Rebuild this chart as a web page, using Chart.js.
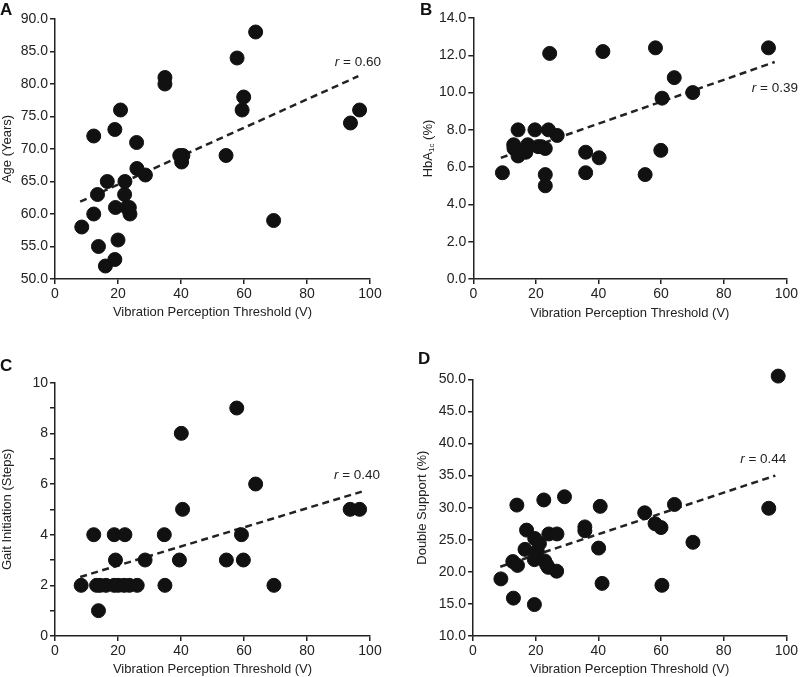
<!DOCTYPE html>
<html>
<head>
<meta charset="utf-8">
<script src="https://cdn.jsdelivr.net/npm/chart.js@4/dist/chart.umd.min.js"></script>
<style>
  body { margin: 0; background: #fff; width: 800px; height: 677px; position: relative; overflow: hidden; }
  .panel { position: absolute; }
  .tag { position: absolute; font: bold 17px "Liberation Sans", Arial, sans-serif; line-height: 17px; color: #111; }
</style>
</head>
<body>
<div class="panel" style="left:0;top:0"><canvas id="chartA" width="400" height="330"></canvas></div>
<div class="panel" style="left:400px;top:0"><canvas id="chartB" width="400" height="330"></canvas></div>
<div class="panel" style="left:0;top:330px"><canvas id="chartC" width="400" height="347"></canvas></div>
<div class="panel" style="left:400px;top:330px"><canvas id="chartD" width="400" height="347"></canvas></div>
<div class="tag" style="left:0;top:1px">A</div>
<div class="tag" style="left:420px;top:1px">B</div>
<div class="tag" style="left:0;top:357px">C</div>
<div class="tag" style="left:418px;top:350px">D</div>
<script>
// panel A - age
const vptA = [8.5, 12.3, 12.3, 13.5, 13.8, 16, 16.6, 19, 19.2, 19, 20, 20.8, 22.2, 22.1, 22.8, 23.6, 23.8,
  25.9, 26, 28.7, 34.9, 34.9, 39.6, 40.6, 40.2, 54.3, 57.8, 59.4, 59.9, 63.7, 69.4, 93.8, 96.7];
const ageA = [58, 72, 60, 63, 55, 52, 65, 73, 61, 53, 56, 76, 65, 63, 61, 61, 60,
  71, 67, 66, 81, 80, 69, 69, 68, 69, 84, 76, 78, 88, 59, 74, 76];
const fitXA = [8.0, 96.3];
const fitYA = [61.9, 81.2];

// panel B - HbA1c
const vptB = [9.3, 12.9, 13, 14.3, 14.3, 16.8, 17.4, 19.7, 20.7, 21.7, 23, 23, 23, 24, 24.4, 26.8,
  35.9, 35.9, 40.2, 41.4, 54.9, 58.2, 59.9, 60.3, 64.2, 70.1, 94.3];
const hbaB = [5.7, 7.2, 7.0, 8.0, 6.6, 6.8, 7.2, 8.0, 7.1, 7.1, 7.0, 5.6, 5.0, 8.0, 12.1, 7.7,
  6.8, 5.7, 6.5, 12.2, 5.6, 12.4, 6.9, 9.7, 10.8, 10.0, 12.4];
const fitXB = [8.8, 96.3];
const fitYB = [6.5, 11.64];

// panel C - gait initiation
const vptC = [8.3, 12.3, 13.2, 13.8, 14.3, 16.2, 18.8, 19.2, 18.8, 20.1, 22.2, 21.9, 23.6, 26.1,
  28.6, 34.7, 34.9, 39.5, 40.1, 40.5, 54.4, 57.7, 59.2, 59.8, 63.7, 69.5, 93.7, 96.7];
const stepsC = [2, 4, 2, 1, 2, 2, 4, 3, 2, 2, 4, 2, 2, 2,
  3, 4, 2, 3, 8, 5, 3, 9, 4, 3, 6, 2, 5, 5];
const fitXC = [8.0, 97.4];
const fitYC = [2.33, 5.7];

// panel D - double support
const vptD = [8.9, 12.7, 12.9, 14.0, 14.2, 16.6, 17.1, 19.6, 19.7, 19.6, 20.5, 21.2, 22.6, 22.9,
  23.5, 24.2, 24.0, 26.8, 26.7, 29.2, 35.7, 35.7, 40.1, 40.6, 41.2, 54.8, 58.1, 60.0, 60.3,
  64.3, 70.2, 94.4, 97.4];
const dsD = [18.9, 21.6, 15.9, 30.4, 21.0, 23.5, 26.5, 14.9, 25.2, 21.9, 23.2, 24.4, 31.2, 21.7,
  21.1, 25.9, 20.7, 25.9, 20.1, 31.7, 27.0, 26.4, 23.7, 30.2, 18.2, 29.2, 27.5, 26.9, 17.9,
  30.5, 24.6, 29.9, 50.5];
const fitXD = [8.7, 96.5];
const fitYD = [20.8, 35.0];

const xTicks = [0, 20, 40, 60, 80, 100];
const FONT = '"Liberation Sans", Arial, sans-serif';
const INK = '#222';

// draws the "r = ..." label and (for B) the subscripted y title
const extras = {
  id: 'extras',
  afterDraw(chart, args, opts) {
    const ctx = chart.ctx;
    const sx = chart.scales.x, sy = chart.scales.y;
    ctx.save();
    ctx.fillStyle = INK;
    ctx.textBaseline = 'middle';
    if (opts.rText) {
      const px = sx.getPixelForValue(opts.rAt[0]);
      const py = sy.getPixelForValue(opts.rAt[1]);
      ctx.font = 'italic 13.5px ' + FONT;
      const w1 = ctx.measureText('r').width;
      ctx.font = '13.5px ' + FONT;
      const rest = ' = ' + opts.rText;
      const w2 = ctx.measureText(rest).width;
      ctx.textAlign = 'left';
      ctx.font = 'italic 13.5px ' + FONT;
      ctx.fillText('r', px - w1 - w2, py);
      ctx.font = '13.5px ' + FONT;
      ctx.fillText(rest, px - w2, py);
    }
    if (opts.hbaTitle) {
      const ca = chart.chartArea;
      ctx.translate(opts.hbaTitle, (ca.top + ca.bottom) / 2);
      ctx.rotate(-Math.PI / 2);
      ctx.textAlign = 'left';
      const big = '13px ' + FONT, small = '8px ' + FONT;
      ctx.font = big; const a = ctx.measureText('HbA').width;
      ctx.font = small; const b = ctx.measureText('1c').width;
      ctx.font = big; const c = ctx.measureText(' (%)').width;
      let x0 = -(a + b + c) / 2;
      ctx.font = big; ctx.fillText('HbA', x0, 0);
      ctx.font = small; ctx.fillText('1c', x0 + a, 4);
      ctx.font = big; ctx.fillText(' (%)', x0 + a + b, 0);
    }
    ctx.restore();
  }
};

function makePanel(id, xs, ys, fitX, fitY, p) {
  const pts = xs.map((x, i) => ({ x: x, y: ys[i] }));
  const fit = fitX.map((x, i) => ({ x: x, y: fitY[i] }));
  return new Chart(document.getElementById(id), {
    type: 'scatter',
    data: {
      datasets: [
        {
          data: pts,
          backgroundColor: '#111',
          borderColor: '#111',
          pointRadius: 7,
          pointHoverRadius: 7,
          clip: false
        },
        {
          type: 'line',
          data: fit,
          showLine: true,
          borderColor: INK,
          borderWidth: 2.5,
          borderDash: [7, 4.5],
          pointRadius: 0,
          fill: false,
          clip: false
        }
      ]
    },
    options: {
      responsive: false,
      animation: false,
      events: [],
      layout: { padding: p.pad },
      plugins: {
        legend: { display: false },
        tooltip: { enabled: false },
        extras: { rText: p.rText, rAt: p.rAt, hbaTitle: p.hbaTitle }
      },
      scales: {
        x: {
          type: 'linear',
          min: 0, max: 100,
          afterBuildTicks: s => { s.ticks = xTicks.map(v => ({ value: v })); },
          afterFit: s => { s.height = p.xH; },
          grid: { drawOnChartArea: false, drawTicks: true, tickLength: 5, color: INK, lineWidth: 1.5 },
          border: { display: true, color: INK, width: 1.5 },
          ticks: { color: INK, padding: 2, font: { family: FONT, size: 14 } },
          title: {
            display: true, text: 'Vibration Perception Threshold (V)', color: INK,
            font: { family: FONT, size: 13 }, padding: { top: 0, bottom: p.xTitlePad }
          }
        },
        y: {
          type: 'linear',
          min: p.yMin, max: p.yMax,
          afterBuildTicks: s => { s.ticks = p.yTicks.map(v => ({ value: v })); },
          afterFit: s => { s.width = p.yW; },
          grid: { drawOnChartArea: false, drawTicks: true, tickLength: 5, color: INK, lineWidth: 1.5 },
          border: { display: true, color: INK, width: 1.5 },
          ticks: { color: INK, padding: 2, font: { family: FONT, size: 14 }, callback: p.yFmt },
          title: {
            display: !!p.yTitle, text: p.yTitle || '', color: INK,
            font: { family: FONT, size: 13 }, padding: { top: 0, bottom: 0 }
          }
        }
      }
    },
    plugins: [extras]
  });
}

const ticksA = [50, 55, 60, 65, 70, 75, 80, 85, 90];
const ticksB = [0, 2, 4, 6, 8, 10, 12, 14];
const ticksC = [0, 1, 2, 3, 4, 5, 6, 7, 8, 9, 10];
const ticksD = [10, 15, 20, 25, 30, 35, 40, 45, 50];
const oneDec = v => v.toFixed(1);

makePanel('chartA', vptA, ageA, fitXA, fitYA, {
  pad: { left: 0, top: 19, right: 30, bottom: 0 }, yW: 55, xH: 51, xTitlePad: 9.5,
  yMin: 50, yMax: 90, yTicks: ticksA, yFmt: oneDec, yTitle: 'Age (Years)',
  rText: '0.60', rAt: [103.5, 83.4]
});
makePanel('chartB', vptB, hbaB, fitXB, fitYB, {
  pad: { left: 0, top: 18, right: 11.7, bottom: 0 }, yW: 73.3, xH: 51, xTitlePad: 9,
  yMin: 0, yMax: 14, yTicks: ticksB, yFmt: oneDec, yTitle: null, hbaTitle: 28,
  rText: '0.39', rAt: [103.7, 10.24]
});
makePanel('chartC', vptC, stepsC, fitXC, fitYC, {
  pad: { left: 0, top: 52.7, right: 30, bottom: 0 }, yW: 55, xH: 41, xTitlePad: 0,
  yMin: 0, yMax: 10, yTicks: ticksC, yFmt: v => (v % 2 === 0 ? String(v) : ''), yTitle: 'Gait Initiation (Steps)',
  rText: '0.40', rAt: [103.2, 6.34]
});
makePanel('chartD', vptD, dsD, fitXD, fitYD, {
  pad: { left: 15, top: 49.3, right: 12, bottom: 0 }, yW: 58, xH: 41, xTitlePad: 0,
  yMin: 10, yMax: 50, yTicks: ticksD, yFmt: oneDec, yTitle: 'Double Support (%)',
  rText: '0.44', rAt: [100, 37.6]
});
</script>
</body>
</html>
